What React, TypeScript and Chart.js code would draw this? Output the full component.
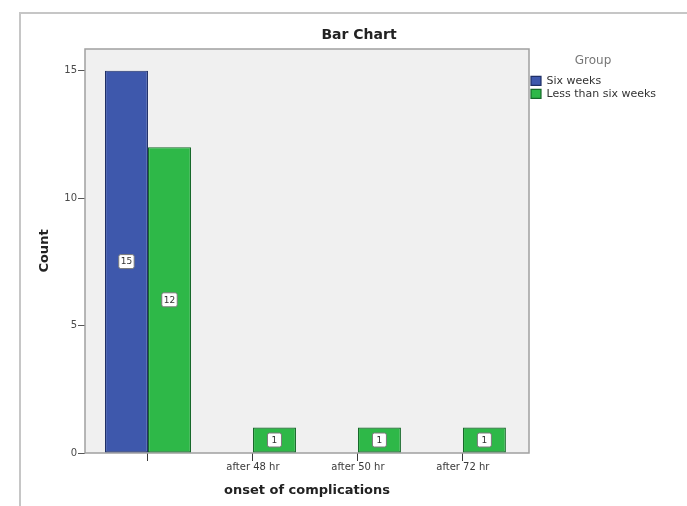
import React, { useEffect, useRef } from 'react';
import { Chart, registerables } from 'chart.js';

Chart.register(...registerables);

// ---- data ----
const categories: string[] = ['', 'after 48 hr', 'after 50 hr', 'after 72 hr'];
const sixWeeks: number[] = [15, 0, 0, 0];
const lessThanSixWeeks: number[] = [12, 1, 1, 1];
const seriesNames: string[] = ['Six weeks', 'Less than six weeks'];
const yTickValues: number[] = [0, 5, 10, 15];
const chartTitle = 'Bar Chart';
const legendTitle = 'Group';
const xTitle = 'onset of complications';
const yTitle = 'Count';

const FONT = "'DejaVu Sans', 'Liberation Sans', sans-serif";

const plotFrame = {
  id: 'plotFrame',
  beforeDraw(chart: any) {
    const { ctx, chartArea: a } = chart;
    ctx.save();
    ctx.fillStyle = '#f0f0f0';
    ctx.fillRect(a.left, a.top, a.right - a.left, a.bottom - a.top);
    ctx.restore();
  },
  beforeDatasetsDraw(chart: any) {
    const { ctx, chartArea: a } = chart;
    ctx.save();
    ctx.strokeStyle = '#a0a0a0';
    ctx.lineWidth = 1.5;
    ctx.strokeRect(a.left, a.top, a.right - a.left, a.bottom - a.top);
    ctx.restore();
  },
  afterDraw(chart: any) {
    const { ctx } = chart;
    ctx.save();
    ctx.font = `bold 14px ${FONT}`;
    ctx.fillStyle = '#222';
    ctx.textAlign = 'center';
    ctx.textBaseline = 'middle';
    ctx.fillText(chartTitle, 359, 35);
    ctx.restore();
  },
};

const valueLabels = {
  id: 'valueLabels',
  afterDatasetsDraw(chart: any) {
    const { ctx } = chart;
    chart.data.datasets.forEach((ds: any, di: number) => {
      const meta = chart.getDatasetMeta(di);
      meta.data.forEach((el: any, i: number) => {
        const v = ds.data[i].y;
        if (!v) return;
        const { x, y, base } = el.getProps(['x', 'y', 'base'], true);
        const cy = (y + base) / 2;
        const text = String(v);
        ctx.save();
        ctx.font = `9px ${FONT}`;
        const w = Math.max(14, ctx.measureText(text).width + 4);
        const h = 14;
        ctx.beginPath();
        if ((ctx as any).roundRect) {
          (ctx as any).roundRect(x - w / 2, cy - h / 2, w, h, 2);
        } else {
          ctx.rect(x - w / 2, cy - h / 2, w, h);
        }
        ctx.fillStyle = '#ffffff';
        ctx.fill();
        ctx.strokeStyle = '#7a7a7a';
        ctx.lineWidth = 1;
        ctx.stroke();
        ctx.fillStyle = '#333';
        ctx.textAlign = 'center';
        ctx.textBaseline = 'middle';
        ctx.fillText(text, x, cy + 0.5);
        ctx.restore();
      });
    });
  },
};

export default function App() {
  const canvasRef = useRef<HTMLCanvasElement | null>(null);

  useEffect(() => {
    if (!canvasRef.current) return;
    const chart = new Chart(canvasRef.current, {
      type: 'bar',
      data: {
        datasets: [
          {
            label: seriesNames[0],
            data: categories.map((_, i) => ({ x: i, y: sixWeeks[i] })),
            backgroundColor: '#3e58ac',
            borderColor: '#1f2f66',
            borderWidth: 1.2,
            borderSkipped: false,
          },
          {
            label: seriesNames[1],
            data: categories.map((_, i) => ({ x: i, y: lessThanSixWeeks[i] })),
            backgroundColor: '#2eb848',
            borderColor: '#17692a',
            borderWidth: 1.2,
            borderSkipped: false,
          },
        ],
      },
      options: {
        responsive: false,
        animation: false,
        events: [],
        layout: { padding: { left: 20, top: 49, right: 30, bottom: 0 } },
        datasets: {
          bar: { categoryPercentage: 0.82, barPercentage: 1 },
        },
        scales: {
          x: {
            type: 'linear',
            min: -0.6,
            max: 3.63,
            offset: false,
            afterBuildTicks: (axis: any) => {
              axis.ticks = categories.map((_, i) => ({ value: i }));
            },
            afterFit: (s: any) => {
              s.height = 53;
            },
            grid: {
              offset: false,
              drawOnChartArea: false,
              drawTicks: true,
              tickLength: 8,
              color: '#3a3a3a',
            },
            border: { display: false },
            ticks: {
              autoSkip: false,
              maxRotation: 0,
              padding: 0,
              color: '#3a3a3a',
              font: { family: FONT, size: 10 },
              callback: (_v: any, idx: number) => categories[idx] ?? '',
            },
            title: {
              display: true,
              text: xTitle,
              color: '#222',
              font: { family: FONT, size: 13, weight: 'bold' },
              padding: { top: 0, bottom: 8 },
            },
          },
          y: {
            type: 'linear',
            min: 0,
            max: 15.85,
            afterBuildTicks: (axis: any) => {
              axis.ticks = yTickValues.map((v) => ({ value: v }));
            },
            afterFit: (s: any) => {
              s.width = 65;
            },
            grid: {
              drawOnChartArea: false,
              drawTicks: true,
              tickLength: 7,
              color: '#555',
            },
            border: { display: false },
            ticks: {
              padding: 1,
              color: '#4a4a4a',
              font: { family: FONT, size: 10 },
            },
            title: {
              display: true,
              text: yTitle,
              color: '#222',
              font: { family: FONT, size: 13, weight: 'bold' },
              padding: { top: 17, bottom: 0 },
            },
          },
        },
        plugins: {
          tooltip: { enabled: false },
          title: { display: false },
          legend: {
            position: 'right',
            align: 'start',
            maxWidth: 128,
            title: {
              display: true,
              text: legendTitle,
              color: '#777',
              font: { family: FONT, size: 12 },
              padding: { top: 6, bottom: 4 },
              position: 'center',
            },
            labels: {
              boxWidth: 10,
              boxHeight: 9,
              padding: 2,
              color: '#333',
              font: { family: FONT, size: 11 },
            },
          },
        },
      } as any,
      plugins: [plotFrame, valueLabels],
    });
    return () => chart.destroy();
  }, []);

  return (
    <div style={{ position: 'absolute', left: 0, top: 0, width: 687, height: 506, background: '#fff' }}>
      <div
        style={{
          position: 'absolute',
          left: 19,
          top: 12,
          width: 668,
          height: 494,
          borderTop: '2px solid #c6c6c6',
          borderLeft: '2px solid #c6c6c6',
          boxSizing: 'border-box',
        }}
      />
      <canvas
        ref={canvasRef}
        width={687}
        height={506}
        style={{ position: 'absolute', left: 0, top: 0, width: 687, height: 506 }}
      />
    </div>
  );
}
